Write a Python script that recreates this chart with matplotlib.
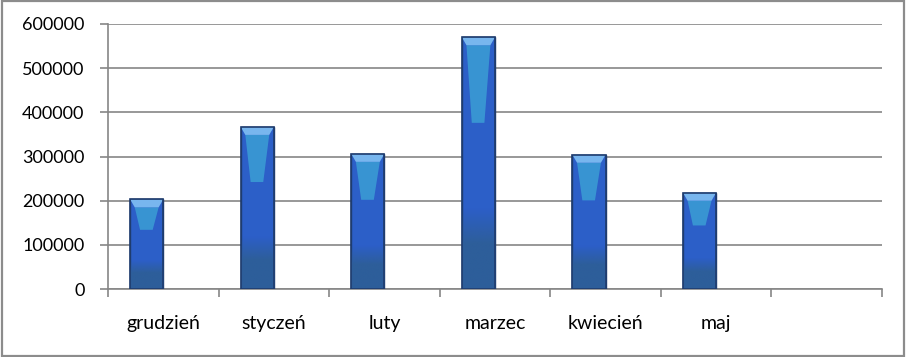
import numpy as np
import matplotlib.pyplot as plt
from matplotlib.patches import Rectangle, Polygon
from matplotlib.colors import to_rgb

miesiace = ['grudzień', 'styczeń', 'luty', 'marzec', 'kwiecień', 'maj']
wartosci = [203000, 367000, 306000, 570000, 304000, 218000]
ile_kategorii = 7
y_ticks = [0, 100000, 200000, 300000, 400000, 500000, 600000]

plt.rcParams['font.family'] = ['Lato', 'DejaVu Sans']

fig = plt.figure(figsize=(9.06, 3.57), dpi=100)
ax = fig.add_axes([108 / 906, 68 / 357, 774 / 906, 265 / 357])

szer = 0.3
przes = -0.15
y_max = 600000
cap = y_max * 8 / 265

x = np.arange(len(miesiace)) + przes
bars = ax.bar(x, wartosci, width=szer, color='#2C5FC8', edgecolor='#1F3C6E',
              linewidth=1, zorder=3)

ciemny = np.array(to_rgb('#2E5E98'))
for b, v in zip(bars, wartosci):
    x0 = b.get_x()
    x1 = x0 + b.get_width()
    w = x1 - x0
    # ciemny dol slupka
    n = 200
    grad = np.zeros((n, 2, 4))
    t = np.linspace(0, 1, n)[:, None]
    grad[:, :, :3] = ciemny
    grad[:, :, 3] = np.clip((0.32 - t) / 0.14, 0, 1) * 0.95
    ax.imshow(grad, extent=(x0, x1, 0, v), origin='lower', aspect='auto',
              zorder=3.2, interpolation='bilinear')
    # jasny stozek w srodku
    top = v - cap
    cone = Polygon([(x0 + 0.14 * w, top), (x1 - 0.14 * w, top),
                    (x0 + 0.68 * w, v * 0.66), (x0 + 0.30 * w, v * 0.66)],
                   closed=True, facecolor='#3A9AD4', edgecolor='none',
                   alpha=0.9, zorder=3.4)
    ax.add_patch(cone)
    # gorna krawedz
    bevel = Polygon([(x0, v), (x1, v), (x1 - 0.14 * w, top), (x0 + 0.14 * w, top)],
                    closed=True, facecolor='#78B6EE', edgecolor='none', zorder=3.6)
    ax.add_patch(bevel)
    ax.add_patch(Rectangle((x0, 0), w, v, fill=False, edgecolor='#1F3C6E',
                           linewidth=1.2, zorder=3.8))

ax.set_xlim(-0.5, ile_kategorii - 0.5)
ax.set_ylim(0, y_max)
ax.set_yticks(y_ticks)
ax.set_yticklabels([str(t) for t in y_ticks])
ax.yaxis.grid(True, color='#868686', linewidth=1.2, zorder=0)
ax.set_axisbelow(True)

ax.set_xticks(np.arange(ile_kategorii + 1) - 0.5)
ax.set_xticklabels([])
ax.set_xticks(np.arange(len(miesiace)), minor=True)
ax.set_xticklabels(miesiace, minor=True)
ax.tick_params(axis='x', which='major', length=6, width=1.2, color='#868686')
ax.tick_params(axis='x', which='minor', length=0, pad=19, labelsize=14)
ax.tick_params(axis='y', length=6, width=1.2, color='#868686', labelsize=13, pad=11)

for s in ['top', 'right']:
    ax.spines[s].set_visible(False)
for s in ['left', 'bottom']:
    ax.spines[s].set_color('#868686')
    ax.spines[s].set_linewidth(1.2)

fig.patches.append(Rectangle((0.002, 0.004), 0.996, 0.993, transform=fig.transFigure,
                             fill=False, edgecolor='#8C8C8C', linewidth=1.6))

fig.savefig('out.png', dpi=100)
